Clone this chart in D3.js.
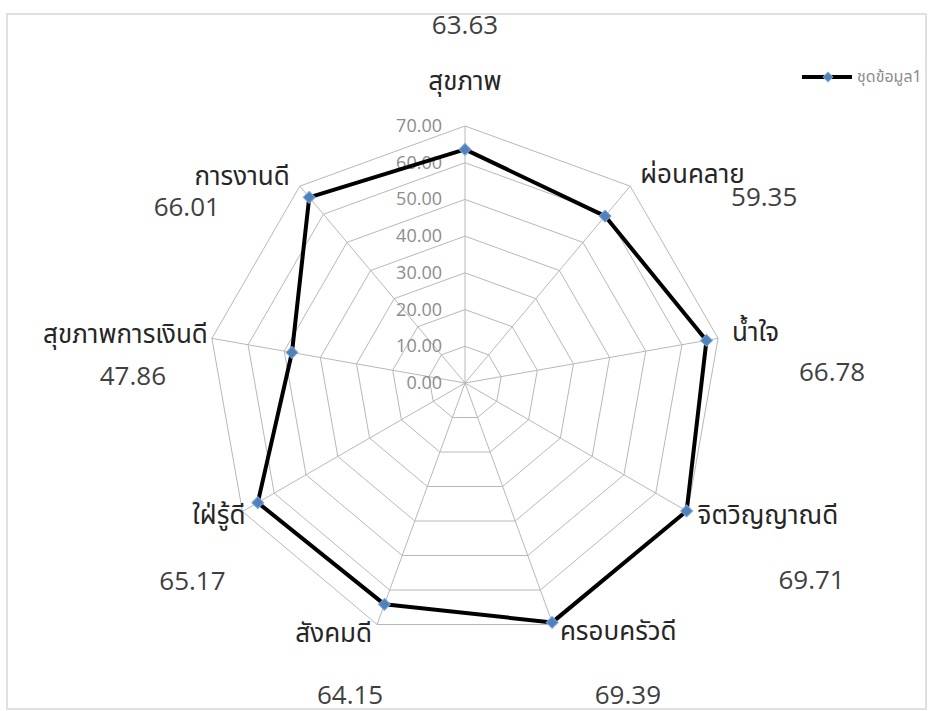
<!DOCTYPE html>
<html>
<head>
<meta charset="utf-8">
<script src="https://cdn.jsdelivr.net/npm/d3@7"></script>
<style>
  html, body { margin: 0; padding: 0; background: #ffffff; }
  svg { display: block; }
  .cat { font-family: Tahoma, "Leelawadee UI", "Noto Sans Thai", "Noto Sans", "DejaVu Sans", sans-serif; fill: #262626; }
  .val { font-family: "Open Sans", "Noto Sans", sans-serif; fill: #404040; }
  .tick { font-family: "Open Sans", "Noto Sans", sans-serif; fill: #8c8c8c; }
</style>
</head>
<body>
<script>
// Radar chart of nine well-being dimensions
const categories = ["สุขภาพ", "ผ่อนคลาย", "น้ำใจ", "จิตวิญญาณดี", "ครอบครัวดี", "สังคมดี", "ใฝ่รู้ดี", "สุขภาพการเงินดี", "การงานดี"];
const values = [63.63, 59.35, 66.78, 69.71, 69.39, 64.15, 65.17, 47.86, 66.01];
const seriesName = "ชุดข้อมูล1";
const tickValues = [0, 10, 20, 30, 40, 50, 60, 70];

// Label placement nudges (pixels) relative to each spoke's outer tip
const catNudge = [[0, -44], [10, -11], [14, -5], [10, 4], [7, 7], [-5, 9], [3, 4], [-4, -3], [-10, -9]];
const valNudge = [[0, -101], [134, 11], [114, 34], [124, 68], [75, 70], [-27, 70], [-50, 69], [-79, 38], [-113, 21]];

const W = 931, H = 711;
const cx = 465, cy = 383;
const svg = d3.select("body").append("svg").attr("width", W).attr("height", H);

// chart frame
svg.append("rect").attr("x", 7).attr("y", 14).attr("width", 919).attr("height", 695)
  .attr("fill", "#ffffff").attr("stroke", "#e0e0e0").attr("stroke-width", 2);

const r = d3.scaleLinear().domain([0, 70]).range([0, 257]);
const angle = d3.scalePoint().domain(d3.range(categories.length)).range([0, 2 * Math.PI * (categories.length - 1) / categories.length]);

const pt = (i, v) => [cx + r(v) * Math.sin(angle(i)), cy - r(v) * Math.cos(angle(i))];

const g = svg.append("g");

// web rings
const ring = d3.line();
tickValues.filter(t => t > 0).forEach(t => {
  const pts = categories.map((c, i) => pt(i, t));
  g.append("path").attr("d", ring(pts) + "Z")
    .attr("fill", "none").attr("stroke", "#b8b8b8").attr("stroke-width", 1);
});

// spokes
categories.forEach((c, i) => {
  const [x, y] = pt(i, 70);
  g.append("line").attr("x1", cx).attr("y1", cy).attr("x2", x).attr("y2", y)
    .attr("stroke", "#b8b8b8").attr("stroke-width", 1);
});

// radial tick labels
g.selectAll("text.tick").data(tickValues).join("text")
  .attr("class", "tick")
  .attr("x", cx - 23)
  .attr("y", d => cy - r(d) + 6)
  .attr("text-anchor", "end")
  .attr("font-size", 18)
  .text(d => d.toFixed(2));

// series line
const linePath = d3.line().curve(d3.curveLinearClosed);
g.append("path")
  .attr("d", linePath(values.map((v, i) => pt(i, v))))
  .attr("fill", "none").attr("stroke", "#000000").attr("stroke-width", 4)
  .attr("stroke-linejoin", "round");

// markers: squares turned 45° into diamonds
const marker = d3.symbol().type(d3.symbolSquare).size(70);
g.selectAll("path.mk").data(values).join("path")
  .attr("class", "mk")
  .attr("d", marker)
  .attr("transform", (v, i) => `translate(${pt(i, v)}) rotate(45)`)
  .attr("fill", "#4f81bd").attr("stroke", "#7aa3d6").attr("stroke-width", 1);

// category labels
categories.forEach((c, i) => {
  const [x, y] = pt(i, 70);
  const s = Math.sin(angle(i));
  const anchor = Math.abs(s) < 0.01 ? "middle" : (s > 0 ? "start" : "end");
  svg.append("text").attr("class", "cat")
    .attr("x", x + catNudge[i][0]).attr("y", y + catNudge[i][1] + 8)
    .attr("text-anchor", anchor).attr("font-size", 26)
    .text(c);
});

// value labels
values.forEach((v, i) => {
  const [x, y] = pt(i, 70);
  svg.append("text").attr("class", "val")
    .attr("x", x + valNudge[i][0]).attr("y", y + valNudge[i][1] + 9)
    .attr("text-anchor", "middle").attr("font-size", 26)
    .text(v.toFixed(2));
});

// legend
const lg = svg.append("g").attr("transform", "translate(802,77)");
lg.append("line").attr("x1", 0).attr("x2", 50).attr("y1", 0).attr("y2", 0)
  .attr("stroke", "#000").attr("stroke-width", 4);
lg.append("path").attr("d", d3.symbol().type(d3.symbolSquare).size(45)())
  .attr("transform", "translate(26,0) rotate(45)").attr("fill", "#4f81bd").attr("stroke", "#7aa3d6");
lg.append("text").attr("class", "cat").attr("x", 55).attr("y", 5)
  .attr("font-size", 16).style("fill", "#8c8c8c").text(seriesName);
</script>
</body>
</html>
